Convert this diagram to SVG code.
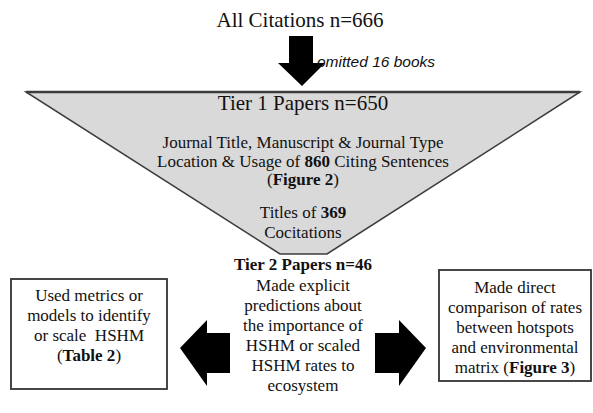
<svg xmlns="http://www.w3.org/2000/svg" width="593" height="413" viewBox="0 0 593 413">
<style>
.t{font-family:"Liberation Serif","Times New Roman",serif;fill:#111;text-anchor:middle}
.s17{font-size:17px}
.b{font-weight:bold}
.box{fill:#fff;stroke:#333;stroke-width:1.8}
.arr{fill:#000}
</style>
<rect width="593" height="413" fill="#fff"/>
<g id="all-citations">
<text class="t" x="300" y="27" font-size="21">All Citations n=666</text>
</g>
<g id="connectors">
<polygon class="arr" points="289,36 313,36 313,63 325,63 302,86 278,63 289,63"/>
<text x="317" y="67" font-family="Liberation Sans, Arial, sans-serif" font-size="15.5" font-style="italic" fill="#111">omitted 16 books</text>
<polygon class="arr" points="230,333 207,333 207,320 180,348 207,386 207,373 230,373"/>
<polygon class="arr" points="375,333 399,333 399,320 426,348 399,386 399,373 375,373"/>
</g>
<g id="tier1">
<polygon points="26,92 580,92 327,254 280,254" fill="#d9d9d9" stroke="#3c3c3c" stroke-width="1.5"/>
<line x1="26" y1="92" x2="580" y2="92" stroke="#3c3c3c" stroke-width="2.5"/>
<text class="t" x="303" y="110" font-size="21">Tier 1 Papers n=650</text>
<text class="t s17" x="303" y="148">Journal Title, Manuscript &amp; Journal Type</text>
<text class="t s17" x="303" y="167">Location &amp; Usage of <tspan class="b">860</tspan> Citing Sentences</text>
<text class="t s17" x="303" y="185">(<tspan class="b">Figure 2</tspan>)</text>
<text class="t s17" x="303" y="218">Titles of <tspan class="b">369</tspan></text>
<text class="t s17" x="303" y="238">Cocitations</text>
</g>
<g id="tier2">
<text class="t s17 b" x="303" y="270">Tier 2 Papers n=46</text>
<text class="t s17" x="303" y="291">Made explicit</text>
<text class="t s17" x="303" y="311">predictions about</text>
<text class="t s17" x="303" y="331">the importance of</text>
<text class="t s17" x="303" y="351">HSHM or scaled</text>
<text class="t s17" x="303" y="371">HSHM rates to</text>
<text class="t s17" x="303" y="391">ecosystem</text>
</g>
<g id="left-box">
<rect class="box" x="11" y="279" width="156" height="110"/>
<text class="t s17" x="89" y="301">Used metrics or</text>
<text class="t s17" x="89" y="321">models to identify</text>
<text class="t s17" x="89" y="341" xml:space="preserve">or scale  HSHM</text>
<text class="t s17" x="89" y="361">(<tspan class="b">Table 2</tspan>)</text>
</g>
<g id="right-box">
<rect class="box" x="439" y="270" width="152" height="111"/>
<text class="t s17" x="515" y="293">Made direct</text>
<text class="t s17" x="515" y="313">comparison of rates</text>
<text class="t s17" x="515" y="333">between hotspots</text>
<text class="t s17" x="515" y="353">and environmental</text>
<text class="t s17" x="515" y="373">matrix (<tspan class="b">Figure 3</tspan>)</text>
</g>
</svg>
